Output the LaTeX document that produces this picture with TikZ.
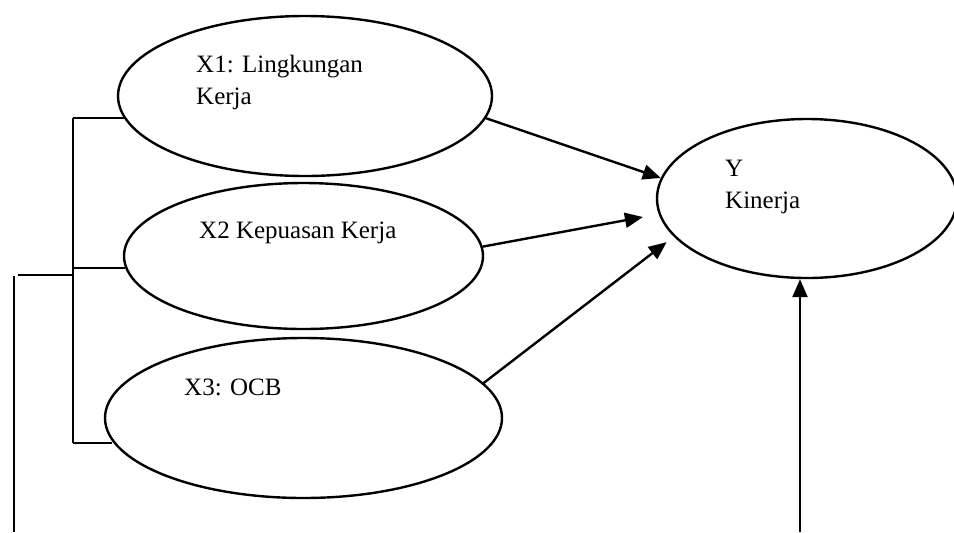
\documentclass[tikz,border=0pt]{standalone}
\usepackage{fontspec}
\setmainfont{Liberation Serif}
\usepackage{tikz}
\usetikzlibrary{arrows.meta, shapes.geometric}

\begin{document}
\begin{tikzpicture}[x=0.5pt, y=-0.5pt, line width=1.2pt,
  var/.style={ellipse, draw, inner sep=0pt},
  lbl/.style={anchor=base west, inner sep=0pt, align=left,
    font=\fontsize{12.5pt}{15.8pt}\selectfont},
  arr/.style={-{Triangle[length=9pt, width=7.5pt]}}]
\useasboundingbox (0,0) rectangle (954,532);

% the variables
\node[var, minimum width=187pt, minimum height=80pt] (X1) at (305,96) {};
\node[var, minimum width=179.5pt, minimum height=73pt] (X2) at (303.5,256) {};
\node[var, minimum width=198.5pt, minimum height=80pt] (X3) at (303.5,418) {};
\node[var, minimum width=150pt, minimum height=79.5pt] (Y) at (807,198.5) {};

% labels (base is the last line)
\node[lbl] (tX1) at (195,104) {X1: Lingkungan\\Kerja};
\node[lbl] (tX2) at (198,238) {X2 Kepuasan Kerja};
\node[lbl] (tX3) at (183,395) {X3: OCB};
\node[lbl] (tY) at (724,208) {Y\\Kinerja};

% bracket on the left
\coordinate (b1) at (73,118);
\coordinate (b2) at (73,268);
\coordinate (b3) at (73,443);
\coordinate (o1) at (18,275);
\coordinate (o2) at (14,276);
\coordinate (o3) at (14,532);
\draw (b1) -- (b3);
\draw (b1) -- (b1 -| X1.187);
\draw (b2) -- (b2 -| X2.184);
\draw (b3) -- (b3 -| X3.187.5);
\draw (o1) -- (o1 -| b1);
\draw (o2) -- (o3);

% arrows to Y
\draw[arr] (X1.353) -- (Y.172);
\draw[arr, shorten >=8pt] (X2.3) -- (Y.186);
\draw[arr, shorten >=4.5pt] (X3.11) -- (Y.196.5);
\coordinate (bt) at (800,532);
\draw[arr] (bt) -- (bt |- Y.south);
\end{tikzpicture}
\end{document}
